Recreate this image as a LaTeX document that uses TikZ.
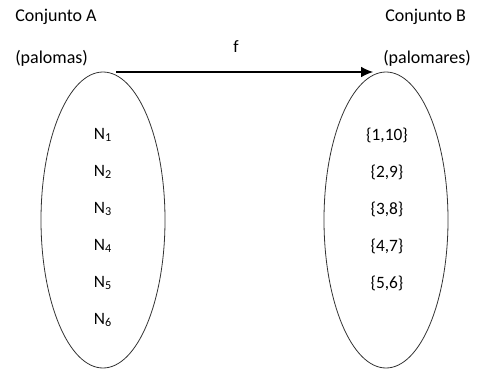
\documentclass[tikz,border=0pt]{standalone}
\usepackage{fontspec}
\setmainfont{Carlito}
\usetikzlibrary{arrows.meta}

\begin{document}
\begin{tikzpicture}[x=0.75pt, y=-0.75pt]
\tikzset{conjunto/.style={draw, gray!40!black, line width=0.6pt},
  etiq/.style={font=\fontsize{13.5}{15}\selectfont, inner sep=0pt, anchor=west},
  elem/.style={font=\fontsize{13}{15}\selectfont, inner sep=0pt}}
\useasboundingbox (0, 0) rectangle (485, 382);
\draw[conjunto] (103, 220) ellipse (62 and 148);
\draw[conjunto] (386, 220) ellipse (62 and 148);
\node[etiq] (TA) at (15, 17) {Conjunto A};
\node[etiq] (PA) at (15, 58) {(palomas)};
\node[etiq] (TB) at (385, 17) {Conjunto B};
\node[etiq] (PB) at (383, 58) {(palomares)};
\coordinate (O) at (116, 72);
\coordinate (D) at (373, 72);
\draw[-{Latex[length=9pt, width=8pt]}, line width=0.8pt] (O) -- (D);
\node[elem] (F) at (236, 47) {f};
\node[elem] (N1) at (103, 135) {N\textsubscript{1}};
\node[elem] (N2) at (103, 172) {N\textsubscript{2}};
\node[elem] (N3) at (103, 209) {N\textsubscript{3}};
\node[elem] (N4) at (103, 246) {N\textsubscript{4}};
\node[elem] (N5) at (103, 283) {N\textsubscript{5}};
\node[elem] (N6) at (103, 320) {N\textsubscript{6}};
\node[elem] (P1) at (387, 135) {\{1,10\}};
\node[elem] (P2) at (387, 172) {\{2,9\}};
\node[elem] (P3) at (387, 209) {\{3,8\}};
\node[elem] (P4) at (387, 246) {\{4,7\}};
\node[elem] (P5) at (387, 283) {\{5,6\}};
\end{tikzpicture}
\end{document}
